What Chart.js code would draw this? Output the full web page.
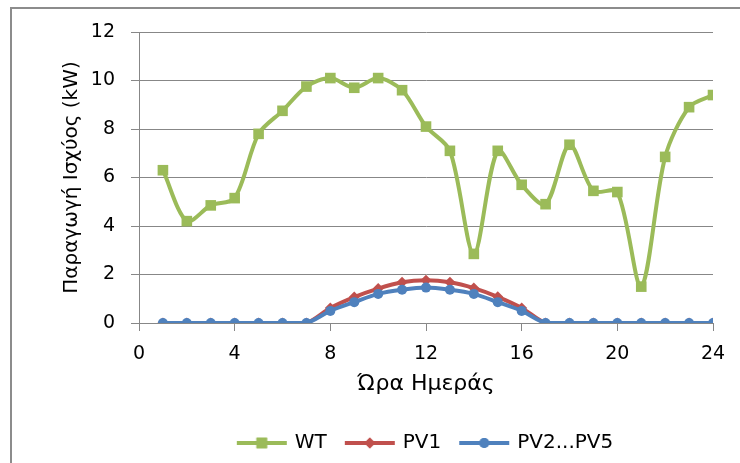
<!DOCTYPE html>
<html>
<head>
<meta charset="utf-8">
<script src="https://cdn.jsdelivr.net/npm/chart.js@4.4.0/dist/chart.umd.min.js"></script>
<style>
  html, body { margin: 0; padding: 0; background: #fff; }
  #wrap { width: 740px; height: 463px; }
</style>
</head>
<body>
<div id="wrap"><canvas id="chart" width="740" height="463"></canvas></div>
<script>
// Ώρες της ημέρας
const hours = [1, 2, 3, 4, 5, 6, 7, 8, 9, 10, 11, 12, 13, 14, 15, 16, 17, 18, 19, 20, 21, 22, 23, 24];

// Παραγωγή ισχύος (kW)
const wtValues = [6.3, 4.2, 4.85, 5.15, 7.8, 8.75, 9.75, 10.1, 9.7, 10.1, 9.6, 8.1,
                  7.1, 2.85, 7.1, 5.7, 4.9, 7.35, 5.45, 5.4, 1.5, 6.85, 8.9, 9.4];
const pv1Values = [0, 0, 0, 0, 0, 0, 0, 0.62, 1.07, 1.42, 1.68, 1.76,
                   1.68, 1.44, 1.08, 0.62, 0, 0, 0, 0, 0, 0, 0, 0];
const pv25Values = [0, 0, 0, 0, 0, 0, 0, 0.5, 0.86, 1.2, 1.37, 1.46,
                    1.37, 1.2, 0.86, 0.5, 0, 0, 0, 0, 0, 0, 0, 0];

const seriesLabels = ['WT', 'PV1', 'PV2...PV5'];
const seriesColors = ['#9BBB59', '#C0504D', '#4F81BD'];
const seriesMarkers = ['rect', 'rectRot', 'circle'];
const markerSizes = [7.5, 5.5, 5];

const xTicks = [0, 4, 8, 12, 16, 20, 24];

const FONT = 'DejaVu Sans';
const GRID = '#878787';

function toPoints(values) {
    return hours.map((h, i) => ({ x: h, y: values[i] }));
}

// petite image "ligne + marqueur" pour la légende, comme dans Excel
function legendSwatch(color, marker, size) {
    const c = document.createElement('canvas');
    c.width = 52;
    c.height = 16;
    const ctx = c.getContext('2d');
    ctx.strokeStyle = color;
    ctx.lineWidth = 4;
    ctx.beginPath();
    ctx.moveTo(1, 8);
    ctx.lineTo(51, 8);
    ctx.stroke();
    ctx.fillStyle = color;
    Chart.helpers.drawPoint(ctx, { pointStyle: marker, radius: size, borderWidth: 0 }, 26, 8);
    ctx.fill();
    return c;
}

const swatches = seriesLabels.map((l, i) => legendSwatch(seriesColors[i], seriesMarkers[i], markerSizes[i]));

const frame = {
    id: 'frame',
    beforeDraw(chart) {
        const ctx = chart.ctx;
        ctx.save();
        ctx.strokeStyle = '#8c8c8c';
        ctx.lineWidth = 2;
        ctx.strokeRect(11, 8, 900, 900);
        ctx.restore();
    }
};

// la légende d'Excel est centrée sur la zone de tracé, pas sur le canvas
const legendShift = {
    id: 'legendShift',
    afterLayout(chart) {
        const lg = chart.legend;
        const d = (chart.chartArea.left + chart.chartArea.right) / 2 - (lg.left + lg.right) / 2;
        lg.left += d;
        lg.right += d;
    }
};

const datasets = [wtValues, pv1Values, pv25Values].map((vals, i) => ({
    label: seriesLabels[i],
    data: toPoints(vals),
    borderColor: seriesColors[i],
    backgroundColor: seriesColors[i],
    borderWidth: 4,
    pointStyle: seriesMarkers[i],
    pointRadius: markerSizes[i],
    pointBorderWidth: 0,
    tension: 0.3,
    order: 2 - i
}));

new Chart(document.getElementById('chart'), {
    type: 'line',
    data: { datasets: datasets },
    options: {
        responsive: false,
        devicePixelRatio: 1,
        animation: false,
        layout: { padding: { left: 0, right: 27, top: 32, bottom: 0 } },
        plugins: {
            tooltip: { enabled: false },
            legend: {
                position: 'bottom',
                labels: {
                    color: '#000',
                    font: { family: FONT, size: 20 },
                    usePointStyle: true,
                    pointStyleWidth: 46,
                    padding: 20,
                    generateLabels(chart) {
                        const items = Chart.defaults.plugins.legend.labels.generateLabels(chart);
                        items.sort((a, b) => a.datasetIndex - b.datasetIndex);
                        items.forEach(it => { it.pointStyle = swatches[it.datasetIndex]; });
                        return items;
                    }
                }
            }
        },
        scales: {
            x: {
                type: 'linear',
                min: 0,
                max: 24,
                afterBuildTicks(scale) {
                    scale.ticks = xTicks.map(v => ({ value: v }));
                },
                afterFit(scale) { scale.height = 90; },
                ticks: { color: '#000', font: { family: FONT, size: 19 }, padding: 12 },
                grid: { drawOnChartArea: false, drawTicks: true, tickLength: 8, color: GRID },
                border: { color: GRID },
                title: {
                    display: true,
                    text: 'Ώρα Ημεράς',
                    color: '#000',
                    font: { family: FONT, size: 22 },
                    padding: { top: 0, bottom: 16 }
                }
            },
            y: {
                min: 0,
                max: 12,
                afterFit(scale) { scale.width = 139; },
                ticks: { stepSize: 2, color: '#000', font: { family: FONT, size: 19 }, padding: 16 },
                grid: { color: GRID, tickLength: 8 },
                border: { color: GRID },
                title: {
                    display: true,
                    text: 'Παραγωγή Ισχύος (kW)',
                    color: '#000',
                    font: { family: FONT, size: 20 },
                    padding: { top: 60, bottom: 0 }
                }
            }
        }
    },
    plugins: [frame, legendShift]
});
</script>
</body>
</html>
